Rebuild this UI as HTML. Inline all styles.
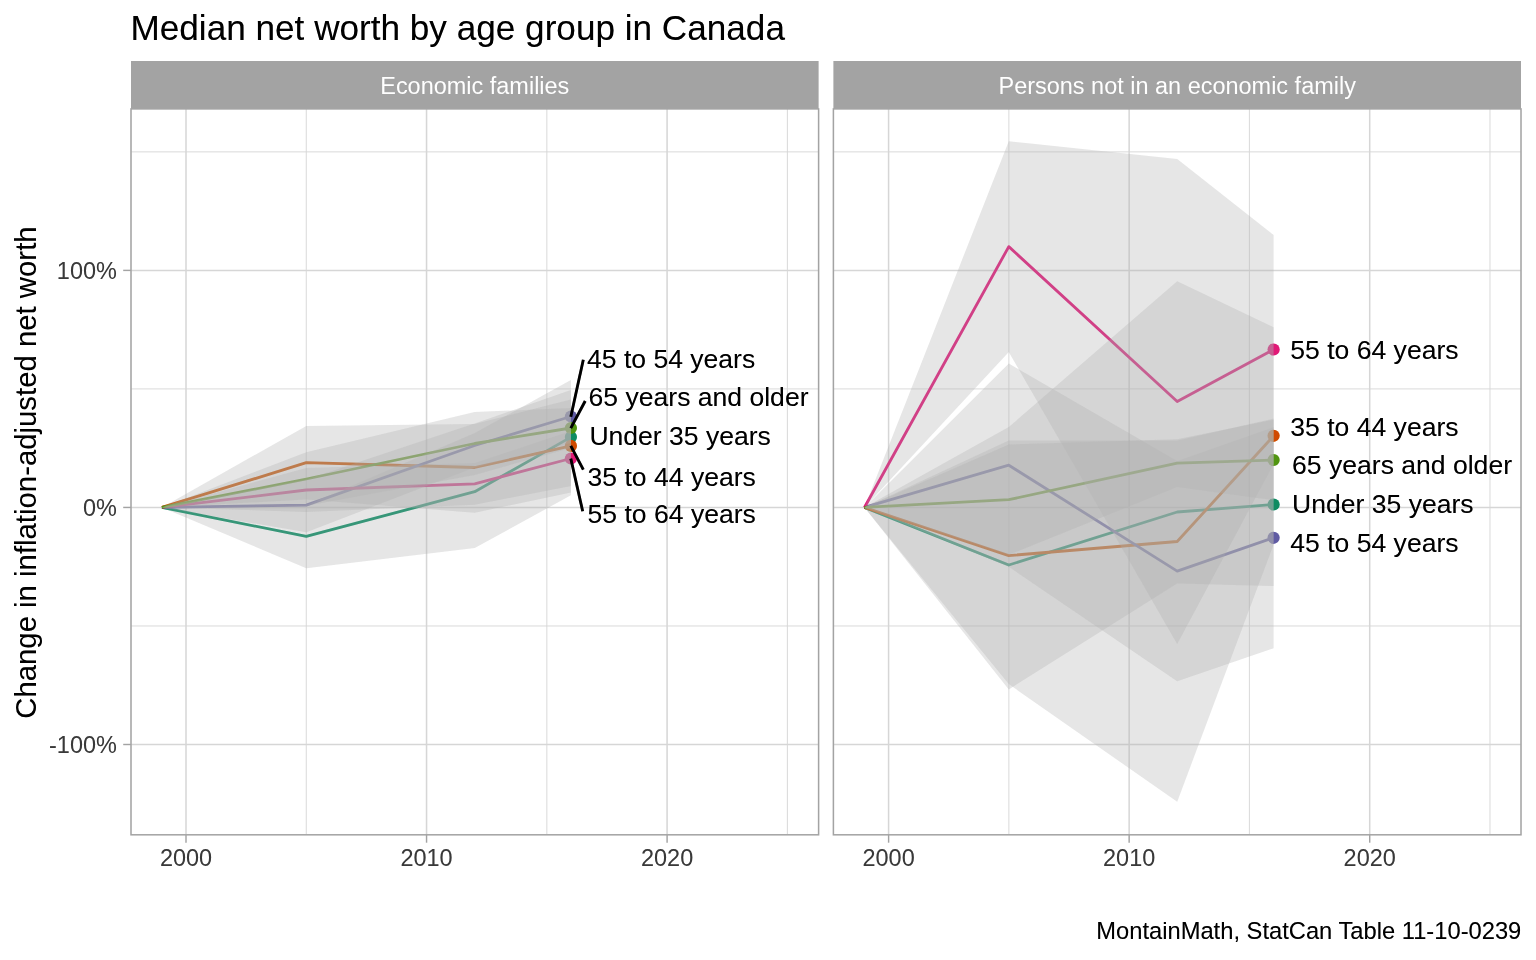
<!DOCTYPE html><html><head><meta charset="utf-8"><title>Median net worth by age group in Canada</title><style>html,body{margin:0;padding:0;background:#fff;overflow:hidden;}svg{display:block;will-change:transform;}text{font-family:"Liberation Sans",sans-serif;}</style></head><body>
<svg width="1536" height="960" viewBox="0 0 1536 960">
<defs><clipPath id="c0"><rect x="131" y="108.9" width="687.6" height="725.9"/></clipPath><clipPath id="c1"><rect x="833.4" y="108.9" width="687.6" height="725.9"/></clipPath><filter id="gm" filterUnits="userSpaceOnUse" x="0" y="0" width="1536" height="960" color-interpolation-filters="sRGB"><feComponentTransfer><feFuncR type="gamma" exponent="1.25"/><feFuncG type="gamma" exponent="1.25"/><feFuncB type="gamma" exponent="1.25"/></feComponentTransfer></filter></defs>
<g filter="url(#gm)">
<rect width="1536" height="960" fill="#fff"/>
<g clip-path="url(#c0)">
<line x1="131" x2="818.6" y1="151.87" y2="151.87" stroke="#DEDEDE" stroke-width="0.9"/>
<line x1="131" x2="818.6" y1="388.92" y2="388.92" stroke="#DEDEDE" stroke-width="0.9"/>
<line x1="131" x2="818.6" y1="625.98" y2="625.98" stroke="#DEDEDE" stroke-width="0.9"/>
<line x1="306.27" x2="306.27" y1="108.9" y2="834.8" stroke="#DEDEDE" stroke-width="0.9"/>
<line x1="546.83" x2="546.83" y1="108.9" y2="834.8" stroke="#DEDEDE" stroke-width="0.9"/>
<line x1="787.38" x2="787.38" y1="108.9" y2="834.8" stroke="#DEDEDE" stroke-width="0.9"/>
<line x1="131" x2="818.6" y1="270.4" y2="270.4" stroke="#DEDEDE" stroke-width="1.5"/>
<line x1="131" x2="818.6" y1="507.45" y2="507.45" stroke="#DEDEDE" stroke-width="1.5"/>
<line x1="131" x2="818.6" y1="744.5" y2="744.5" stroke="#DEDEDE" stroke-width="1.5"/>
<line x1="186" x2="186" y1="108.9" y2="834.8" stroke="#DEDEDE" stroke-width="1.5"/>
<line x1="426.55" x2="426.55" y1="108.9" y2="834.8" stroke="#DEDEDE" stroke-width="1.5"/>
<line x1="667.1" x2="667.1" y1="108.9" y2="834.8" stroke="#DEDEDE" stroke-width="1.5"/>
<polyline points="161.95,507.45 306.3,536.4 474.7,491.7 570.9,437.1" fill="none" stroke="#1B9E77" stroke-width="2.8" stroke-linejoin="round"/>
<polyline points="161.95,507.45 306.3,462.7 474.7,467.5 570.9,445.9" fill="none" stroke="#D95F02" stroke-width="2.8" stroke-linejoin="round"/>
<polyline points="161.95,507.45 306.3,505.1 474.7,445.5 570.9,416.5" fill="none" stroke="#7570B3" stroke-width="2.8" stroke-linejoin="round"/>
<polyline points="161.95,507.45 306.3,490 474.7,483.8 570.9,458.5" fill="none" stroke="#E7298A" stroke-width="2.8" stroke-linejoin="round"/>
<polyline points="161.95,507.45 306.3,479 474.7,443.5 570.9,428" fill="none" stroke="#66A61E" stroke-width="2.8" stroke-linejoin="round"/>
<circle cx="570.9" cy="437.1" r="6.1" fill="#1B9E77"/>
<circle cx="570.9" cy="445.9" r="6.1" fill="#D95F02"/>
<circle cx="570.9" cy="416.5" r="6.1" fill="#7570B3"/>
<circle cx="570.9" cy="458.5" r="6.1" fill="#E7298A"/>
<circle cx="570.9" cy="428" r="6.1" fill="#66A61E"/>
<polygon points="161.95,507.45 306.3,505.3 474.7,433 570.9,380 570.9,495.3 474.7,548 306.3,568.3" fill="#BEBEBE" fill-opacity="0.3"/>
<polygon points="161.95,507.45 306.3,425.9 474.7,424 570.9,399.5 570.9,492.5 474.7,512.7 306.3,499.5" fill="#BEBEBE" fill-opacity="0.3"/>
<polygon points="161.95,507.45 306.3,479.6 474.7,423.6 570.9,390 570.9,443 474.7,467.4 306.3,532.3" fill="#BEBEBE" fill-opacity="0.3"/>
<polygon points="161.95,507.45 306.3,468.1 474.7,462.9 570.9,431.1 570.9,485.9 474.7,504.7 306.3,511.9" fill="#BEBEBE" fill-opacity="0.3"/>
<polygon points="161.95,507.45 306.3,452.3 474.7,412.1 570.9,408 570.9,448 474.7,474.9 306.3,505.7" fill="#BEBEBE" fill-opacity="0.3"/>
</g>
<rect x="131" y="108.9" width="687.6" height="725.9" fill="none" stroke="#B3B3B3" stroke-width="1.5"/>
<rect x="131" y="61" width="687.6" height="47.9" fill="#B3B3B3"/>
<line x1="186" x2="186" y1="834.8" y2="842.7" stroke="#B3B3B3" stroke-width="1.42"/>
<text x="186" y="866.1" font-size="23.47" fill="#4D4D4D" text-anchor="middle">2000</text>
<line x1="426.55" x2="426.55" y1="834.8" y2="842.7" stroke="#B3B3B3" stroke-width="1.42"/>
<text x="426.55" y="866.1" font-size="23.47" fill="#4D4D4D" text-anchor="middle">2010</text>
<line x1="667.1" x2="667.1" y1="834.8" y2="842.7" stroke="#B3B3B3" stroke-width="1.42"/>
<text x="667.1" y="866.1" font-size="23.47" fill="#4D4D4D" text-anchor="middle">2020</text>
<g clip-path="url(#c1)">
<line x1="833.4" x2="1521" y1="151.87" y2="151.87" stroke="#DEDEDE" stroke-width="0.9"/>
<line x1="833.4" x2="1521" y1="388.92" y2="388.92" stroke="#DEDEDE" stroke-width="0.9"/>
<line x1="833.4" x2="1521" y1="625.98" y2="625.98" stroke="#DEDEDE" stroke-width="0.9"/>
<line x1="1008.88" x2="1008.88" y1="108.9" y2="834.8" stroke="#DEDEDE" stroke-width="0.9"/>
<line x1="1249.42" x2="1249.42" y1="108.9" y2="834.8" stroke="#DEDEDE" stroke-width="0.9"/>
<line x1="1489.97" x2="1489.97" y1="108.9" y2="834.8" stroke="#DEDEDE" stroke-width="0.9"/>
<line x1="833.4" x2="1521" y1="270.4" y2="270.4" stroke="#DEDEDE" stroke-width="1.5"/>
<line x1="833.4" x2="1521" y1="507.45" y2="507.45" stroke="#DEDEDE" stroke-width="1.5"/>
<line x1="833.4" x2="1521" y1="744.5" y2="744.5" stroke="#DEDEDE" stroke-width="1.5"/>
<line x1="888.6" x2="888.6" y1="108.9" y2="834.8" stroke="#DEDEDE" stroke-width="1.5"/>
<line x1="1129.15" x2="1129.15" y1="108.9" y2="834.8" stroke="#DEDEDE" stroke-width="1.5"/>
<line x1="1369.7" x2="1369.7" y1="108.9" y2="834.8" stroke="#DEDEDE" stroke-width="1.5"/>
<polyline points="864.45,507.45 1008.8,565 1177.2,512 1273.6,504.5" fill="none" stroke="#1B9E77" stroke-width="2.8" stroke-linejoin="round"/>
<polyline points="864.45,507.45 1008.8,555.6 1177.2,541.5 1273.6,435.8" fill="none" stroke="#D95F02" stroke-width="2.8" stroke-linejoin="round"/>
<polyline points="864.45,507.45 1008.8,465.2 1177.2,571.1 1273.6,537.8" fill="none" stroke="#7570B3" stroke-width="2.8" stroke-linejoin="round"/>
<polyline points="864.45,507.45 1008.8,246.6 1177.2,401.5 1273.6,349.5" fill="none" stroke="#E7298A" stroke-width="2.8" stroke-linejoin="round"/>
<polyline points="864.45,507.45 1008.8,499.7 1177.2,463.1 1273.6,460" fill="none" stroke="#66A61E" stroke-width="2.8" stroke-linejoin="round"/>
<circle cx="1273.6" cy="504.5" r="6.1" fill="#1B9E77"/>
<circle cx="1273.6" cy="435.8" r="6.1" fill="#D95F02"/>
<circle cx="1273.6" cy="537.8" r="6.1" fill="#7570B3"/>
<circle cx="1273.6" cy="349.5" r="6.1" fill="#E7298A"/>
<circle cx="1273.6" cy="460" r="6.1" fill="#66A61E"/>
<polygon points="864.45,507.45 1008.8,440.6 1177.2,440.6 1273.6,418.6 1273.6,586 1177.2,583.4 1008.8,689.4" fill="#BEBEBE" fill-opacity="0.3"/>
<polygon points="864.45,507.45 1008.8,427.1 1177.2,281.2 1273.6,327.2 1273.6,544.4 1177.2,801.8 1008.8,684.1" fill="#BEBEBE" fill-opacity="0.3"/>
<polygon points="864.45,507.45 1008.8,363.6 1177.2,460.9 1273.6,427.3 1273.6,648.3 1177.2,681.3 1008.8,566.8" fill="#BEBEBE" fill-opacity="0.3"/>
<polygon points="864.45,507.45 1008.8,141.2 1177.2,159.1 1273.6,235 1273.6,464 1177.2,643.9 1008.8,352" fill="#BEBEBE" fill-opacity="0.3"/>
<polygon points="864.45,507.45 1008.8,444.6 1177.2,439.2 1273.6,419.7 1273.6,500.3 1177.2,487 1008.8,554.8" fill="#BEBEBE" fill-opacity="0.3"/>
</g>
<rect x="833.4" y="108.9" width="687.6" height="725.9" fill="none" stroke="#B3B3B3" stroke-width="1.5"/>
<rect x="833.4" y="61" width="687.6" height="47.9" fill="#B3B3B3"/>
<line x1="888.6" x2="888.6" y1="834.8" y2="842.7" stroke="#B3B3B3" stroke-width="1.42"/>
<text x="888.6" y="866.1" font-size="23.47" fill="#4D4D4D" text-anchor="middle">2000</text>
<line x1="1129.15" x2="1129.15" y1="834.8" y2="842.7" stroke="#B3B3B3" stroke-width="1.42"/>
<text x="1129.15" y="866.1" font-size="23.47" fill="#4D4D4D" text-anchor="middle">2010</text>
<line x1="1369.7" x2="1369.7" y1="834.8" y2="842.7" stroke="#B3B3B3" stroke-width="1.42"/>
<text x="1369.7" y="866.1" font-size="23.47" fill="#4D4D4D" text-anchor="middle">2020</text>
<text x="474.8" y="93.9" font-size="23.47" fill="#fff" text-anchor="middle">Economic families</text>
<text x="1177.2" y="93.9" font-size="23.47" fill="#fff" text-anchor="middle">Persons not in an economic family</text>
<line x1="123.2" x2="131" y1="270.4" y2="270.4" stroke="#B3B3B3" stroke-width="1.42"/>
<text x="116.9" y="278.7" font-size="23.47" fill="#4D4D4D" text-anchor="end">100%</text>
<line x1="123.2" x2="131" y1="507.45" y2="507.45" stroke="#B3B3B3" stroke-width="1.42"/>
<text x="116.9" y="515.75" font-size="23.47" fill="#4D4D4D" text-anchor="end">0%</text>
<line x1="123.2" x2="131" y1="744.5" y2="744.5" stroke="#B3B3B3" stroke-width="1.42"/>
<text x="116.9" y="752.8" font-size="23.47" fill="#4D4D4D" text-anchor="end">-100%</text>
<text transform="translate(35.6,472.6) rotate(-90)" font-size="29.33" fill="#000" text-anchor="middle">Change in inflation-adjusted net worth</text>
<text x="130.5" y="39.7" font-size="35.15" fill="#000">Median net worth by age group in Canada</text>
<text x="1521.3" y="938.6" font-size="23.72" fill="#000" text-anchor="end">MontainMath, StatCan Table 11-10-0239</text>
<line x1="570.8" y1="416.8" x2="583.3" y2="359.8" stroke="#000" stroke-width="2.8"/>
<line x1="570.8" y1="428.1" x2="585.2" y2="401" stroke="#000" stroke-width="2.8"/>
<line x1="570.8" y1="445.9" x2="583.3" y2="469.7" stroke="#000" stroke-width="2.8"/>
<line x1="570.8" y1="458.6" x2="582.7" y2="511.2" stroke="#000" stroke-width="2.8"/>
<text x="587" y="367.7" font-size="26.55" fill="#000">45 to 54 years</text>
<text x="588.6" y="405.7" font-size="26.55" fill="#000">65 years and older</text>
<text x="589.4" y="444.9" font-size="26.55" fill="#000">Under 35 years</text>
<text x="587.6" y="485.5" font-size="26.55" fill="#000">35 to 44 years</text>
<text x="587.6" y="523.1" font-size="26.55" fill="#000">55 to 64 years</text>
<text x="1290.3" y="359.05" font-size="26.55" fill="#000">55 to 64 years</text>
<text x="1290.3" y="435.6" font-size="26.55" fill="#000">35 to 44 years</text>
<text x="1292.1" y="474.4" font-size="26.55" fill="#000">65 years and older</text>
<text x="1292.1" y="512.7" font-size="26.55" fill="#000">Under 35 years</text>
<text x="1290.3" y="552.4" font-size="26.55" fill="#000">45 to 54 years</text>
</g></svg></body></html>
